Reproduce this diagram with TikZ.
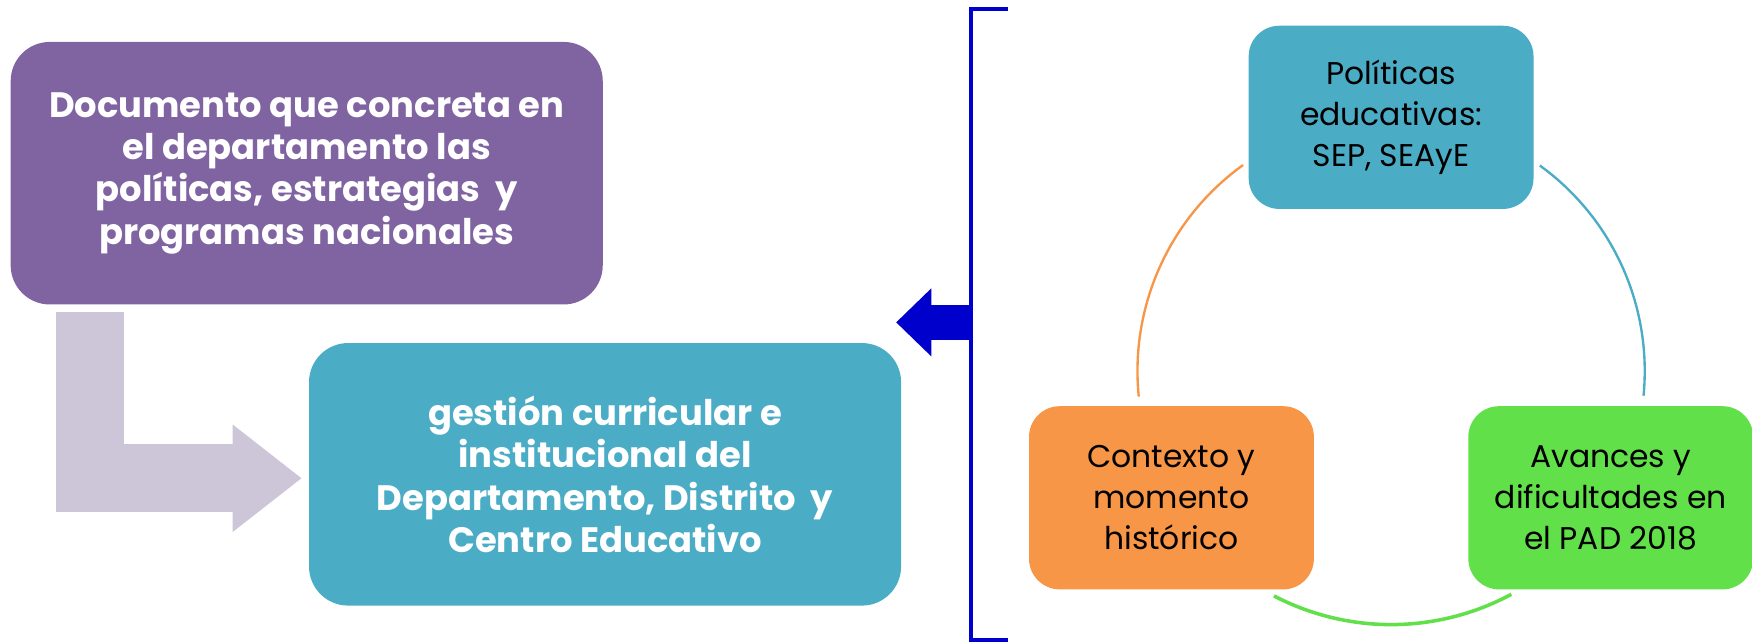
\documentclass[tikz,border=0pt]{standalone}
\usepackage{fontspec}
\setmainfont{Poppins}
\usepackage{tikz}
\usetikzlibrary{positioning}
\usetikzlibrary{calc}
\usetikzlibrary{arrows.meta}
\definecolor{purplebox}{HTML}{8064A2}
\definecolor{tealbox}{HTML}{4BACC6}
\definecolor{orangebox}{HTML}{F79646}
\definecolor{greenbox}{HTML}{62E04A}
\definecolor{grayarrow}{HTML}{CCC6D8}
\definecolor{blueline}{HTML}{0000CC}
\tikzstyle{ringline} = [draw, line width=1.2pt]

\begin{document}
\begin{tikzpicture}[x=0.02cm, y=-0.02cm,
	bigbox/.style={rounded corners=0.7cm, minimum width=10.6cm,
	minimum height=4.7cm, align=center, text=white, inner sep=0pt,
	font=\fontsize{18}{21.6}\selectfont\bfseries},
	cyclebox/.style={rounded corners=0.55cm, minimum width=5.1cm,
	minimum height=3.28cm, align=center, text=black, inner sep=0pt,
	font=\fontsize{16}{21}\selectfont}]
	\useasboundingbox (0,0) rectangle (1568,576);
	%% Left boxes
	\node [bigbox, fill=purplebox] (doc) at (274.5,155)
	{Documento que concreta en\\el departamento las\\pol\'iticas, estrategias\ \ y\\programas nacionales};
	\node [bigbox, fill=tealbox] (gest) at (541.5,424.5)
	{gesti\'on curricular e\\institucional del\\Departamento, Distrito\ \ y\\Centro Educativo};
	%% Cycle
	\coordinate (ring) at (1245,332);
	\node [cyclebox, fill=tealbox] (pol) at ($(ring)+(270:227)$)
	{Pol\'iticas\\educativas:\\SEP, SEAyE};
	\node [cyclebox, fill=greenbox] (avn) at ($(ring)+(30:227)$)
	{Avances y\\dificultades en\\el PAD 2018};
	\node [cyclebox, fill=orangebox] (ctx) at ($(ring)+(150:227)$)
	{Contexto y\\momento\\hist\'orico};
	%% Arcs
	\path [ringline, orangebox] ($(ring)+(174.2:227)$) arc[start angle=174.2, end angle=234.3, radius=227];
	\path [ringline, tealbox] ($(ring)+(305.9:227)$) arc[start angle=305.9, end angle=365.6, radius=227];
	\path [ringline, greenbox, line width=1.8pt] ($(ring)+(61.7:227)$) arc[start angle=61.7, end angle=117.5, radius=227];
	%% The bent arrow
	\draw [grayarrow, line width=1.22cm, -{Triangle[length=1.24cm, width=1.84cm]}]
	($(doc.south west)+(71.5,6)$) |- ($(gest.west)+(-6,3.5)$);
	%% The bracket
	\coordinate (brtop) at (902,8);
	\coordinate (brbot) at (902,573);
	\coordinate (brmid) at (869,288.5);
	\coordinate (bluetip) at (802,288.5);
	\draw [blueline, line width=0.08cm] (brtop) -| (brmid) |- (brbot);
	\draw [blueline, line width=0.63cm, -{Triangle[length=0.63cm, width=1.18cm]}]
	(brmid) -- (bluetip);
\end{tikzpicture}
\end{document}
